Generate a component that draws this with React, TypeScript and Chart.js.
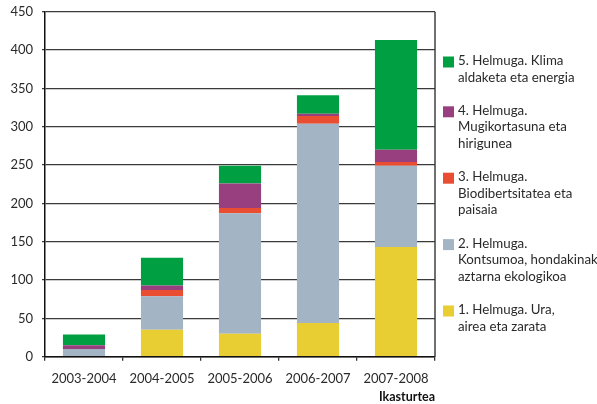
import { useEffect, useRef } from "react";
import { Chart, registerables } from "chart.js";

Chart.register(...registerables);

const categories = ["2003-2004", "2004-2005", "2005-2006", "2006-2007", "2007-2008"];
const goal1 = [0, 35, 30, 44, 143];
const goal2 = [10, 44, 157, 260, 106];
const goal3 = [0, 8, 7, 10, 5];
const goal4 = [5, 6, 32, 3, 16];
const goal5 = [14, 36, 23, 24, 143];

const label1 = ["1. Helmuga. Ura,", "airea eta zarata"];
const label2 = ["2. Helmuga.", "Kontsumoa, hondakinak", "aztarna ekologikoa"];
const label3 = ["3. Helmuga.", "Biodibertsitatea eta", "paisaia"];
const label4 = ["4. Helmuga.", "Mugikortasuna eta", "hirigunea"];
const label5 = ["5. Helmuga. Klima", "aldaketa eta energia"];

const colors = ["#E8CD33", "#A3B5C4", "#E94E33", "#983F80", "#00A042"];
const axisTitle = "Ikasturtea";
const yMax = 450;
const yStep = 50;

const FONT = "Lato, 'Open Sans', sans-serif";
const TEXT = "#2a2a2a";

const legendPlugin = {
  id: "sideLegend",
  afterDraw(chart: any) {
    const ctx = chart.ctx;
    const area = chart.chartArea;
    ctx.save();
    // right border of plot
    ctx.strokeStyle = "#333";
    ctx.lineWidth = 1.4;
    ctx.beginPath();
    ctx.moveTo(area.right, area.top);
    ctx.lineTo(area.right, area.bottom);
    ctx.stroke();

    const ds = chart.data.datasets.slice().reverse();
    const lineH = 16.6;
    let y = 60.7;
    const sqX = area.right + 8;
    const txtX = area.right + 23;
    ctx.font = `13.3px ${FONT}`;
    ctx.textBaseline = "middle";
    ctx.textAlign = "left";
    ds.forEach((d: any) => {
      ctx.fillStyle = d.backgroundColor;
      ctx.fillRect(sqX, y - 4.2, 11, 11);
      ctx.fillStyle = TEXT;
      const lines: string[] = d.label.split("\n");
      lines.forEach((ln: string) => {
        ctx.fillText(ln, txtX, y);
        y += lineH;
      });
      y += lineH;
    });
    ctx.restore();
  },
};

export default function App() {
  const ref = useRef<HTMLCanvasElement | null>(null);
  useEffect(() => {
    if (!ref.current) return;
    const series = [goal1, goal2, goal3, goal4, goal5];
    const labels = [label1, label2, label3, label4, label5];
    const chart = new Chart(ref.current, {
      type: "bar",
      data: {
        labels: categories,
        datasets: series.map((s, i) => ({
          label: labels[i].join("\n"),
          data: s,
          backgroundColor: colors[i],
          borderWidth: 0,
          categoryPercentage: 1,
          barPercentage: 0.54,
        })),
      },
      options: {
        animation: false,
        responsive: true,
        maintainAspectRatio: false,
        layout: { padding: { top: 11.7, right: 162, bottom: 0, left: 0 } },
        plugins: { legend: { display: false }, tooltip: { enabled: false } },
        scales: {
          x: {
            stacked: true,
            grid: {
              drawOnChartArea: false,
              drawTicks: true,
              tickLength: 4,
              color: "#333",
              lineWidth: 1.3,
              offset: true,
            },
            border: { display: true, color: "#111", width: 1.5 },
            ticks: { color: TEXT, font: { family: FONT, size: 13 }, padding: 10 },
            title: {
              display: true,
              text: axisTitle,
              align: "end",
              color: "#111",
              font: { family: FONT, size: 12.5, weight: "bold" },
              padding: { top: 0, bottom: 0 },
            },
            afterFit: (s: any) => {
              s.height = 47.3;
              s.paddingLeft = 0;
              s.paddingRight = 0;
            },
          },
          y: {
            stacked: true,
            min: 0,
            max: yMax,
            ticks: { stepSize: yStep, color: TEXT, font: { family: FONT, size: 13 }, padding: 9 },
            grid: { color: "#3a3a3a", lineWidth: 1.3, tickLength: 3 },
            border: { display: true, color: "#111", width: 1.5 },
            afterFit: (s: any) => {
              s.width = 45;
              s.paddingTop = 0;
              s.paddingBottom = 0;
            },
          },
        },
      },
      plugins: [legendPlugin],
    });
    return () => chart.destroy();
  }, []);
  return (
    <div style={{ position: "fixed", left: 0, top: 0, width: 597, height: 404, background: "#fff" }}>
      <canvas ref={ref} />
    </div>
  );
}
